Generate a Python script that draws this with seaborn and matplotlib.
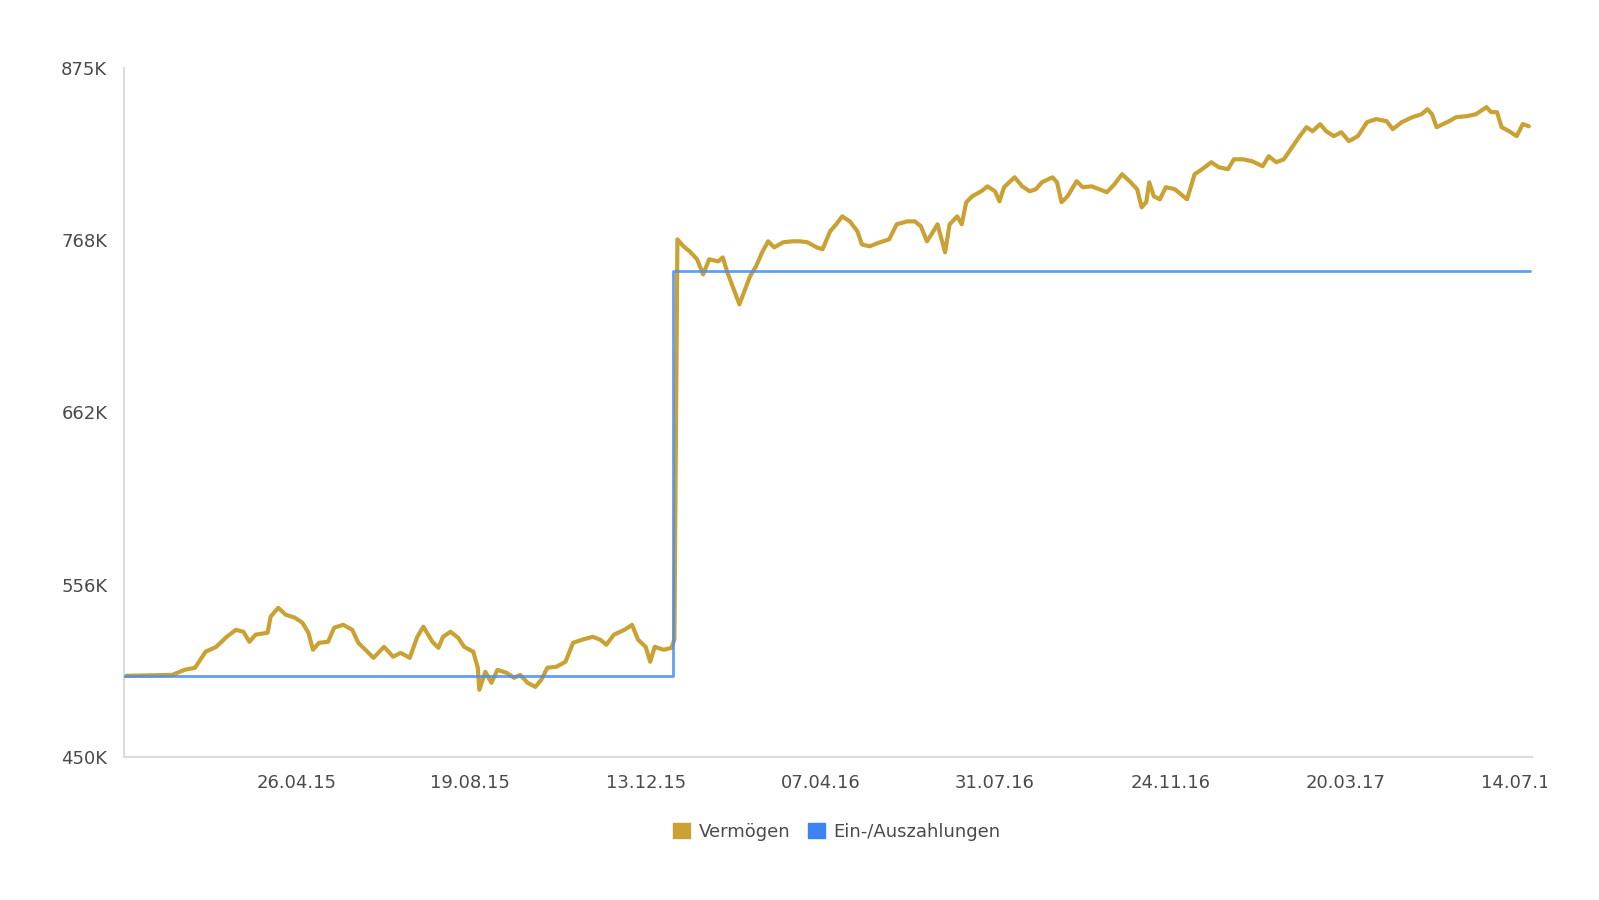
import matplotlib.pyplot as plt
import matplotlib.transforms as mtransforms
from matplotlib.patches import Patch
import seaborn as sns
import pandas as pd
import numpy as np

# Daten (Tage seit Startdatum, Werte in Tausend EUR)
start_datum = pd.Timestamp("2015-01-02")
ende_tage = 931

tage_vermoegen = [
    0, 32, 40, 47, 54, 61, 68, 74, 79, 83, 87, 95, 97, 102, 107, 113, 118, 122, 125, 129,
    135, 139, 145, 151, 155, 161, 165, 172, 178, 183, 189, 194, 198, 204, 208, 211, 216, 221,
    225, 231, 234, 235, 239, 243, 247, 253, 258, 262, 267, 272, 276, 280, 286, 292, 297, 303,
    310, 315, 319, 324, 331, 336, 340, 345, 348, 351, 357, 362, 364,
    366, 370, 374, 379, 383, 387, 393, 396, 399, 404, 407, 410, 414, 418, 422, 426, 430, 436,
    442, 447, 452, 458, 462, 467, 471, 475, 480, 485, 488, 493, 500, 506, 511, 518, 523, 527,
    531, 534, 538, 543, 546, 551, 554, 557, 561, 567, 571, 576, 579, 582, 589, 594, 599, 603,
    607, 614, 617, 620, 624, 630, 634, 640,
    645, 650, 655, 660, 665, 670, 673, 676, 678, 681, 685, 689, 695, 699, 703, 708, 713, 719,
    724, 730, 734, 740, 746, 753, 757, 762, 767, 773, 777, 782, 786, 791, 795, 800, 805, 810,
    816, 822, 828, 835, 839, 845, 852, 858, 862, 865, 868, 875, 881, 888, 894, 901, 904, 908,
    911, 916, 921, 925, 929,
]
vermoegen = [
    500, 500.6, 503.7, 505, 514.9, 517.9, 524.1, 528.4, 527.2, 521, 525.4, 526.6, 536.5, 542,
    537.7, 535.9, 532.8, 526.6, 516.1, 520.4, 521, 529.7, 531.5, 528.4, 520.4, 514.9, 511.1,
    517.9, 511.8, 514.2, 511.1, 524.1, 530.3, 521, 517.3, 524.1, 527.2, 523.5, 517.9, 514.9,
    505, 491.4, 502.5, 495.7, 503.7, 501.9, 498.8, 500.6, 495.7, 493.2, 497.6, 505, 505.6,
    508.7, 520.4, 522.3, 524.1, 522.3, 519.2, 525.4, 528.4, 531.5, 522.3, 517.9, 508.7, 517.9,
    516.1, 517.3, 522.3,
    769.3, 765, 762, 757, 747.7, 757, 755.7, 758.2, 749, 736.6, 729.2, 736.6, 746.5, 752.7,
    761.3, 768.1, 764.4, 767.5, 768.1, 768.1, 767.5, 764.4, 763.2, 774.3, 778.6, 783.5, 780.4,
    774.3, 766.2, 765, 767.5, 769.3, 778.6, 780.4, 780.4, 777.4, 768.1, 772.4, 778.6, 761.3,
    778.6, 783.5, 778.6, 792.2, 795.9, 799, 802, 799, 792.8, 801.5, 807.6, 802, 799, 800.2,
    804.5, 807.6, 804.5, 792.2, 795.9, 805.2, 801.5, 802,
    800.2, 798.4, 803.3, 809.5, 805.2, 800.2, 789.1, 792.2, 804.5, 795.9, 794, 801.5, 800.2,
    797.1, 794, 809.5, 812.6, 816.9, 813.8, 812.6, 818.7, 818.7, 817.5, 814.4, 820.6, 816.9,
    818.7, 826.8, 832.3, 838.5, 836, 840.4, 836, 833, 835.4, 829.9, 833, 841.6, 843.5, 842.2,
    837.3, 841.6, 844.7, 846.5, 849.6, 846.5, 838.5, 841.6, 844.7, 845.3, 846.5, 850.9, 847.8,
    847.8, 838.5, 836, 833, 840.4, 839.1,
]

tage_zahlungen = [0, 363, 930]
zahlungen = [500, 750, 750]

y_ticks = [450, 556.25, 662.5, 768.75, 875]
y_labels = ["450K", "556K", "662K", "768K", "875K"]
x_ticks = ["2015-04-26", "2015-08-19", "2015-12-13", "2016-04-07",
           "2016-07-31", "2016-11-24", "2017-03-20", "2017-07-14"]

farbe_gold = "#c9a233"
farbe_blau = "#4a8df0"
text_farbe = "#4a4a4a"

df_v = pd.DataFrame({"datum": start_datum + pd.to_timedelta(tage_vermoegen, unit="D"),
                     "wert": vermoegen})
df_z = pd.DataFrame({"datum": start_datum + pd.to_timedelta(tage_zahlungen, unit="D"),
                     "wert": zahlungen})

sns.set_style("white")
plt.rcParams["font.family"] = ["DejaVu Sans"]

fig = plt.figure(figsize=(15.99, 9), dpi=100)
ax = fig.add_axes([0.0775, 0.159, 0.8805, 0.7654])

sns.lineplot(data=df_v, x="datum", y="wert", color=farbe_gold, linewidth=3.0, ax=ax, zorder=2)
sns.lineplot(data=df_z, x="datum", y="wert", color=farbe_blau, linewidth=2.0, ax=ax,
             drawstyle="steps-post", alpha=0.85, zorder=3)

ax.set_xlim(start_datum, start_datum + pd.Timedelta(days=ende_tage))
ax.set_ylim(450, 875)
ax.set_yticks(y_ticks)
ax.set_yticklabels(y_labels)
ax.set_xticks(pd.to_datetime(x_ticks))
ax.set_xticklabels([pd.Timestamp(d).strftime("%d.%m.%y") for d in x_ticks])
ax.set_xlabel("")
ax.set_ylabel("")

for s in ["top", "right"]:
    ax.spines[s].set_visible(False)
for s in ["left", "bottom"]:
    ax.spines[s].set_color("#dcdcdc")
    ax.spines[s].set_linewidth(1.5)

ax.tick_params(axis="both", length=0, labelsize=13, labelcolor=text_farbe)
ax.tick_params(axis="y", pad=12)
ax.tick_params(axis="x", pad=12)

# letzte Datumsbeschriftung wird am Rand abgeschnitten
clip = mtransforms.TransformedBbox(mtransforms.Bbox([[0, 0], [1547 / 1599, 1]]), fig.transFigure)
letzte = ax.get_xticklabels()[-1]
letzte.set_clip_on(True)
letzte.set_clip_box(clip)

handles = [Patch(color=farbe_gold, label="Vermögen"),
           Patch(color="#3c84f5", label="Ein-/Auszahlungen")]
fig.legend(handles=handles, loc="center", bbox_to_anchor=(837 / 1599, 1 - 832 / 900),
           ncol=2, frameon=False, fontsize=13, labelcolor=text_farbe,
           handlelength=0.9, handleheight=0.9, handletextpad=0.5, columnspacing=1.0)

plt.savefig("out.png", dpi=100)
plt.close()
